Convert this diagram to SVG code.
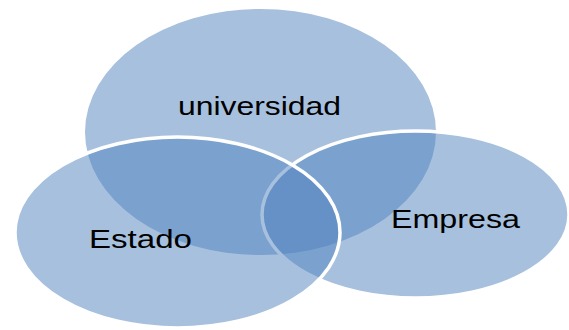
<svg xmlns="http://www.w3.org/2000/svg" width="569" height="330" viewBox="0 0 569 330">
<style>
.set{fill:#4F81BD;fill-opacity:0.5}
.edge{stroke:#ffffff;stroke-width:3.5}
.lbl{font-family:"Liberation Sans",Arial,sans-serif;font-size:25px;fill:#000000}
</style>
<rect width="569" height="330" fill="#ffffff"/>
<g id="universidad">
<ellipse class="set" cx="260.5" cy="132" rx="175.5" ry="123"/>
<text class="lbl" x="178" y="115" textLength="163" lengthAdjust="spacingAndGlyphs">universidad</text>
</g>
<g id="empresa">
<ellipse class="set edge" cx="415.5" cy="214.5" rx="153.5" ry="83.5"/>
<text class="lbl" x="391" y="228" textLength="129" lengthAdjust="spacingAndGlyphs">Empresa</text>
</g>
<g id="estado">
<ellipse class="set edge" cx="177.5" cy="232.5" rx="162.5" ry="95.5"/>
<text class="lbl" x="89" y="248" textLength="103" lengthAdjust="spacingAndGlyphs">Estado</text>
</g>
<g id="connectors"></g>
</svg>
